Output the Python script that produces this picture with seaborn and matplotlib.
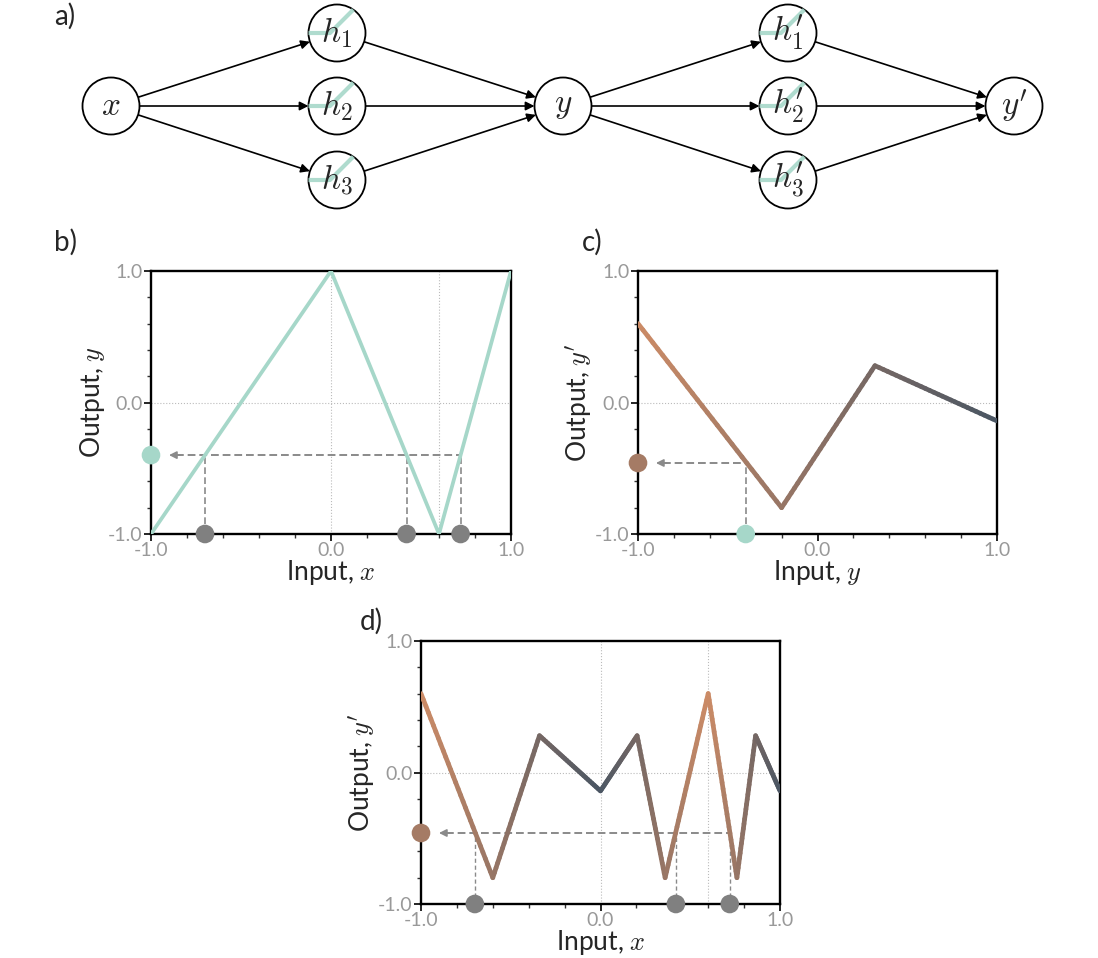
import numpy as np
import matplotlib
matplotlib.use("Agg")
import matplotlib.pyplot as plt
import seaborn as sns
from matplotlib.collections import LineCollection
from matplotlib.colors import LinearSegmentedColormap, Normalize
from matplotlib.ticker import MultipleLocator, FormatStrFormatter
from matplotlib.patches import Circle

# ---------------- data ----------------
# panel b: first network, y = f1(x)
b_x = [-1.0, 0.0, 0.6, 1.0]
b_y = [-1.0, 1.0, -1.0, 1.0]
# panel c: second network, y' = f2(y)
c_x = [-1.0, -0.2, 0.32, 1.0]
c_y = [0.6, -0.8, 0.28, -0.14]
# panel d: composed network, y' = f2(f1(x))
d_x = [-1.0, -0.6, -0.34, 0.0, 0.204, 0.36, 0.6, 0.76, 0.864, 1.0]
d_y = [0.6, -0.8, 0.28, -0.14, 0.28, -0.8, 0.6, -0.8, 0.28, -0.14]
# level-set illustration
x_pre = [-0.7, 0.42, 0.72]     # inputs x mapping to y = -0.4
y_level = -0.4                  # y value (panel b output / panel c input)
yp_level = -0.46                # y' value
fold_x = [0.0, 0.6]             # dotted guide positions
tick_vals = [-1.0, 0.0, 1.0]

# network diagram
node_keys = ["x", "h1", "h2", "h3", "y", "hp1", "hp2", "hp3", "yp"]
node_labels = [r"$x$", r"$h_1$", r"$h_2$", r"$h_3$", r"$y$",
               r"$h_1^{\prime}$", r"$h_2^{\prime}$", r"$h_3^{\prime}$", r"$y^{\prime}$"]
edges = [("x", "h1"), ("x", "h2"), ("x", "h3"),
         ("h1", "y"), ("h2", "y"), ("h3", "y"),
         ("y", "hp1"), ("y", "hp2"), ("y", "hp3"),
         ("hp1", "yp"), ("hp2", "yp"), ("hp3", "yp")]

# ---------------- style ----------------
sns.set_style("ticks")
plt.rcParams["font.family"] = ["Lato", "DejaVu Sans"]
plt.rcParams["mathtext.fontset"] = "cm"
plt.rcParams["axes.unicode_minus"] = False

TEAL = "#A6D7C9"
GREY_PT = "#808080"
DASH = "#8a8a8a"
cmap = LinearSegmentedColormap.from_list("ob", ["#CC8B66", "#4A5663"])
norm = Normalize(-1, 1)

W, H = 1098, 958
fig = plt.figure(figsize=(W / 100, H / 100), dpi=100)


def px_axes(left, top, right, bottom):
    return fig.add_axes([left / W, 1 - bottom / H, (right - left) / W, (bottom - top) / H])


# ---------------- panel a ----------------
ax_a = px_axes(0, 0, W, 215)
ax_a.set_xlim(0, W)
ax_a.set_ylim(215, 0)
ax_a.axis("off")
node_pos = {"x": (111, 106), "h1": (337, 33), "h2": (337, 106), "h3": (337, 180),
            "y": (563, 106), "hp1": (788, 33), "hp2": (788, 106), "hp3": (788, 180),
            "yp": (1014, 106)}
R = 28.5
for a, b in edges:
    (x0, y0), (x1, y1) = node_pos[a], node_pos[b]
    d = np.hypot(x1 - x0, y1 - y0)
    ux, uy = (x1 - x0) / d, (y1 - y0) / d
    ax_a.annotate("", xy=(x1 - ux * R, y1 - uy * R), xytext=(x0 + ux * R, y0 + uy * R),
                  arrowprops=dict(arrowstyle="-|>", color="black", lw=1.2,
                                  mutation_scale=13, shrinkA=0, shrinkB=0))
for key, lab in zip(node_keys, node_labels):
    cx, cy = node_pos[key]
    ax_a.add_patch(Circle((cx, cy), R, facecolor="white", edgecolor="black", lw=1.3, zorder=3))
    if key.startswith("h"):
        k = 7.0
        t = (2 * k + np.sqrt(4 * k * k - 8 * (k * k - R * R))) / 4
        ax_a.plot([cx - R, cx - k, cx - k + t], [cy, cy, cy - t], color=TEAL, lw=3,
                  alpha=0.9, zorder=4, solid_capstyle="butt")
    ax_a.text(cx, cy, lab, ha="center", va="center", fontsize=24, zorder=5)


# ---------------- helpers ----------------
def style_axes(ax, xlabel, ylabel):
    ax.set_xlim(-1, 1)
    ax.set_ylim(-1, 1)
    ax.set_xticks(tick_vals)
    ax.set_yticks(tick_vals)
    ax.xaxis.set_major_formatter(FormatStrFormatter("%.1f"))
    ax.yaxis.set_major_formatter(FormatStrFormatter("%.1f"))
    ax.xaxis.set_minor_locator(MultipleLocator(0.2))
    ax.yaxis.set_minor_locator(MultipleLocator(0.2))
    ax.tick_params(which="major", direction="out", length=5, width=1.2, color="black",
                   labelcolor="#999999", labelsize=14, pad=1)
    ax.tick_params(which="minor", direction="out", length=3, width=1, color="#333333")
    for s in ax.spines.values():
        s.set_linewidth(1.7)
        s.set_color("black")
    ax.set_xlabel(xlabel, fontsize=19, labelpad=-1)
    ax.set_ylabel(ylabel, fontsize=19, labelpad=1)


def gradient_line(ax, xs, ys, cvals, lw):
    segs, cols = [], []
    for i in range(len(xs) - 1):
        t = np.linspace(0, 1, 30)
        sx = xs[i] + t * (xs[i + 1] - xs[i])
        sy = ys[i] + t * (ys[i + 1] - ys[i])
        sc = cvals[i] + t * (cvals[i + 1] - cvals[i])
        for j in range(len(t) - 1):
            segs.append([(sx[j], sy[j]), (sx[j + 1], sy[j + 1])])
            cols.append(cmap(norm(0.5 * (sc[j] + sc[j + 1]))))
    lc = LineCollection(segs, colors=cols, linewidth=lw, capstyle="round", joinstyle="round", zorder=3)
    ax.add_collection(lc)


def guides(ax, vx):
    ax.axhline(0, color="#bbbbbb", lw=0.8, ls=":", zorder=1)
    for v in vx:
        ax.axvline(v, color="#bbbbbb", lw=0.8, ls=":", zorder=1)


def left_arrow(ax, y):
    ax.annotate("", xy=(-0.9, y), xytext=(-0.84, y),
                arrowprops=dict(arrowstyle="-|>", color=DASH, lw=1.2, mutation_scale=11,
                                shrinkA=0, shrinkB=0), zorder=4)


# ---------------- panel b ----------------
ax_b = px_axes(151, 271, 511, 534)
guides(ax_b, fold_x)
sns.lineplot(x=b_x, y=b_y, ax=ax_b, color=TEAL, lw=2.7, zorder=3)
ax_b.plot([-0.86, max(x_pre)], [y_level, y_level], color=DASH, lw=1.4, ls=(0, (4, 2)), zorder=2)
for xv in x_pre:
    ax_b.plot([xv, xv], [-1, y_level], color=DASH, lw=1.2, ls=(0, (4, 2)), zorder=2)
left_arrow(ax_b, y_level)
sns.scatterplot(x=x_pre, y=[-1] * len(x_pre), ax=ax_b, color=GREY_PT, s=180,
                edgecolor="none", clip_on=False, zorder=6)
sns.scatterplot(x=[-1], y=[y_level], ax=ax_b, color=TEAL, s=180, edgecolor="none",
                clip_on=False, zorder=6)
style_axes(ax_b, "Input, $x$", "Output, $y$")

# ---------------- panel c ----------------
ax_c = px_axes(638, 271, 997, 534)
ax_c.axhline(0, color="#bbbbbb", lw=0.8, ls=":", zorder=1)
gradient_line(ax_c, c_x, c_y, c_x, 3.4)
ax_c.plot([-0.86, y_level], [yp_level, yp_level], color=DASH, lw=1.4, ls=(0, (4, 2)), zorder=2)
ax_c.plot([y_level, y_level], [-1, yp_level], color=DASH, lw=1.2, ls=(0, (4, 2)), zorder=2)
left_arrow(ax_c, yp_level)
sns.scatterplot(x=[y_level], y=[-1], ax=ax_c, color=TEAL, s=180, edgecolor="none",
                clip_on=False, zorder=6)
sns.scatterplot(x=[-1], y=[yp_level], ax=ax_c, color=cmap(norm(y_level)), s=180,
                edgecolor="none", clip_on=False, zorder=6)
style_axes(ax_c, "Input, $y$", r"Output, $y^{\prime}$")

# ---------------- panel d ----------------
ax_d = px_axes(421, 641, 780, 904)
guides(ax_d, fold_x)
d_c = np.interp(d_x, b_x, b_y)
gradient_line(ax_d, d_x, d_y, d_c, 3.4)
ax_d.plot([-0.86, max(x_pre)], [yp_level, yp_level], color=DASH, lw=1.4, ls=(0, (4, 2)), zorder=2)
for xv in x_pre:
    ax_d.plot([xv, xv], [-1, yp_level], color=DASH, lw=1.0, ls=(0, (3, 2)), zorder=2)
left_arrow(ax_d, yp_level)
sns.scatterplot(x=x_pre, y=[-1] * len(x_pre), ax=ax_d, color=GREY_PT, s=180,
                edgecolor="none", clip_on=False, zorder=6)
sns.scatterplot(x=[-1], y=[yp_level], ax=ax_d, color=cmap(norm(y_level)), s=180,
                edgecolor="none", clip_on=False, zorder=6)
style_axes(ax_d, "Input, $x$", r"Output, $y^{\prime}$")

# panel letters
for lab, xp, yp in [("a)", 54, 16), ("b)", 54, 242), ("c)", 582, 242), ("d)", 360, 621)]:
    fig.text(xp / W, 1 - yp / H, lab, fontsize=20, va="center", ha="left")

fig.savefig("out.png", dpi=100)
